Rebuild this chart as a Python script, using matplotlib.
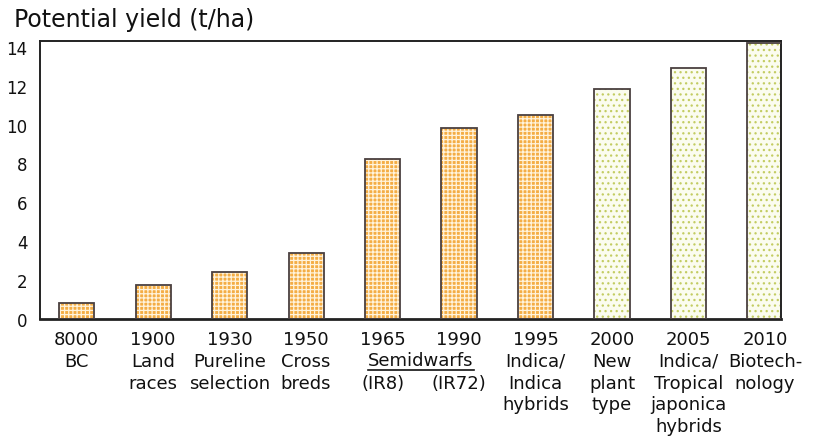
import numpy as np
import matplotlib
matplotlib.use("Agg")
import matplotlib.pyplot as plt
from matplotlib.lines import Line2D

plt.rcParams['font.family'] = ['DejaVu Sans']
plt.rcParams['hatch.linewidth'] = 0.9

# data
years = ['8000\nBC', '1900\nLand\nraces', '1930\nPureline\nselection', '1950\nCross\nbreds',
         '1965', '1990', '1995\nIndica/\nIndica\nhybrids',
         '2000\nNew\nplant\ntype', '2005\nIndica/\nTropical\njaponica\nhybrids',
         '2010\nBiotech-\nnology']
yield_t = [0.8, 1.75, 2.4, 3.4, 8.25, 9.8, 10.5, 11.85, 12.9, 14.2]
achieved = [True, True, True, True, True, True, True, False, False, False]
y_ticks = [0, 2, 4, 6, 8, 10, 12, 14]
group_label = 'Semidwarfs'
variety = {4: '(IR8)', 5: '(IR72)'}

fig = plt.figure(figsize=(8.16, 4.39), dpi=100)
ax = fig.add_axes([40/816, 1 - 320/439, 741/816, 278/439])

x = np.arange(len(yield_t))
w = 0.46
for xi, yi, done in zip(x, yield_t, achieved):
    if done:
        ax.bar(xi, yi, w, color='#f4ad45', edgecolor='#fff3dc', linewidth=0,
               hatch='++++', zorder=2)
    else:
        ax.bar(xi, yi, w, color='#fbfcef', edgecolor='#c3cc62', linewidth=0,
               hatch='...', zorder=2)
    ax.bar(xi, yi, w, fill=False, edgecolor='#4a4040', linewidth=1.3, zorder=3)

ax.set_xlim(-0.48, 9.21)
ax.set_ylim(0, 14.3)
ax.set_yticks(y_ticks)
ax.set_yticklabels([str(t) for t in y_ticks], fontsize=12)
ax.set_xticks(x)
ax.set_xticklabels(years, fontsize=13, linespacing=1.27)
ax.tick_params(axis='both', length=0, colors='#111')
ax.tick_params(axis='y', pad=9)
ax.tick_params(axis='x', pad=8)
for s in ax.spines.values():
    s.set_color('#222')
    s.set_linewidth(1.4)
ax.spines['bottom'].set_linewidth(2)

fig.text(14/816, 1 - 20/439, 'Potential yield (t/ha)', fontsize=17, va='center', ha='left',
         color='#111')

semi = ax.annotate(group_label, xy=((x[4] + x[5]) / 2, 0), xycoords=('data', 'axes fraction'),
                   xytext=(0, -29.5), textcoords='offset points', ha='center', va='center',
                   fontsize=13, color='#111')
for i, lab in variety.items():
    ax.annotate(lab, xy=(x[i], 0), xycoords=('data', 'axes fraction'),
                xytext=(0, -46), textcoords='offset points', ha='center', va='center',
                fontsize=13, color='#111')

fig.canvas.draw()
bb = semi.get_window_extent()
fig.add_artist(Line2D([bb.x0 / 816, bb.x1 / 816], [(bb.y0 - 1) / 439] * 2,
                      color='#111', linewidth=1.2))

fig.savefig('out.png', dpi=100)
